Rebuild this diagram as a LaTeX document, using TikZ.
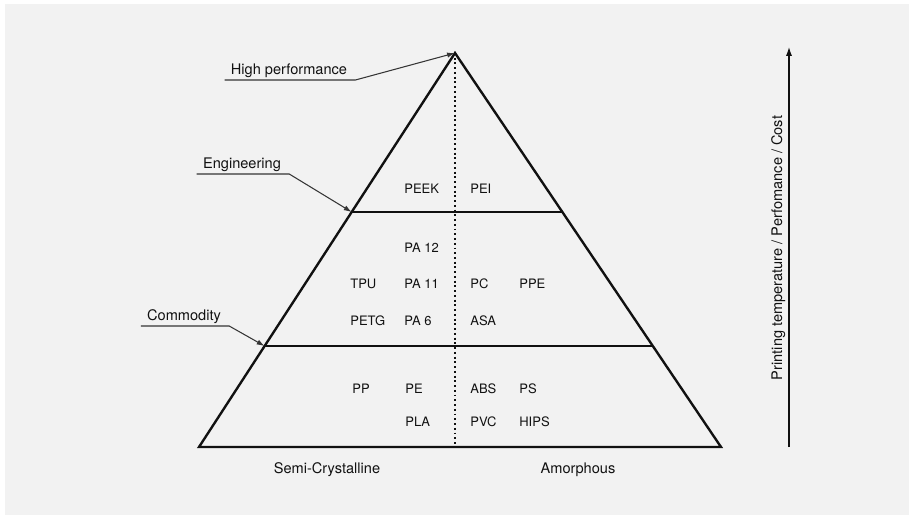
\documentclass[tikz,border=0pt]{standalone}
\usepackage{fontspec}
\setmainfont{TeX Gyre Heros}
\usetikzlibrary{calc,arrows.meta}
\definecolor{paper}{HTML}{F2F2F2}
\definecolor{ink}{HTML}{111111}

\begin{document}
\begin{tikzpicture}[x=0.02cm, y=-0.02cm,
		edge/.style={ink, line width=1.35pt},
		divide/.style={ink, line width=1pt, dash pattern=on 1.1pt off 1.6pt},
		leader/.style={ink!85, line width=0.6pt, -{Latex[length=4.5pt,width=3pt]}},
		poly/.style={anchor=west, inner sep=0pt, font=\fontsize{7.4}{9}\selectfont, text=ink},
		tag/.style={anchor=base, inner sep=0pt, font=\fontsize{8.3}{10}\selectfont, text=ink}]
		\useasboundingbox (0,0) rectangle (909,515);
		\fill[paper] (5,4) rectangle (909,515);
		% pyramid with the two tier lines and the middle split
		\coordinate (apex) at (455,53);
		\coordinate (bl) at (199,447);
		\coordinate (br) at (721,447);
		\coordinate (foot) at (455,447);
		\coordinate (e1) at ($(bl)!0.5964!(apex)$);
		\coordinate (e2) at ($(br)!0.5964!(apex)$);
		\coordinate (c1) at ($(bl)!0.2563!(apex)$);
		\coordinate (c2) at ($(br)!0.2563!(apex)$);
		\draw[edge] (bl) -- (apex) -- (br) -- cycle;
		\draw[edge] (e1) -- (e2);
		\draw[edge] (c1) -- (c2);
		\draw[divide] (apex) -- (foot);
		% materials
		\foreach \id/\x/\y/\t in {peek/404/189/PEEK, pei/470/189/PEI,
				pa12/404/248/PA 12,
				tpu/350/284/TPU, pa11/404/284/PA 11, pc/470/284/PC, ppe/519/284/PPE,
				petg/350/321/PETG, pa6/404/321/PA 6, asa/470/321/ASA,
				pp/352/389/PP, pe/405/389/PE, abs/470/389/ABS, ps/519/389/PS,
				pla/405/422/PLA, pvc/470/422/PVC, hips/519/422/HIPS}
			\node[poly] (\id) at (\x,\y) {\t};
		% tier names with their leaders
		\node[tag] (hp) at (289,74) {High performance};
		\node[tag] (eng) at (242,168) {Engineering};
		\node[tag] (com) at (184,320) {Commodity};
		\draw[leader] ($(hp.base west)+(-6,6)$) -- ($(hp.base east)+(8,6)$) -- (apex);
		\draw[leader] ($(eng.base west)+(-6,6)$) -- ($(eng.base east)+(8,6)$) -- (e1);
		\draw[leader] ($(com.base west)+(-6,6)$) -- ($(com.base east)+(8,6)$) -- (c1);
		\node[tag] (semi) at (327,473) {Semi-Crystalline};
		\node[tag] (amor) at (578,473) {Amorphous};
		% axis on the right
		\coordinate (lo) at (789,447);
		\coordinate (hi) at (789,47);
		\draw[ink, line width=0.6pt, -{Latex[length=5pt,width=3.4pt]}] (lo) -- (hi);
		\node[tag, rotate=90] (axis) at (782,248) {Printing temperature / Perfomance / Cost};
	\end{tikzpicture}
\end{document}
